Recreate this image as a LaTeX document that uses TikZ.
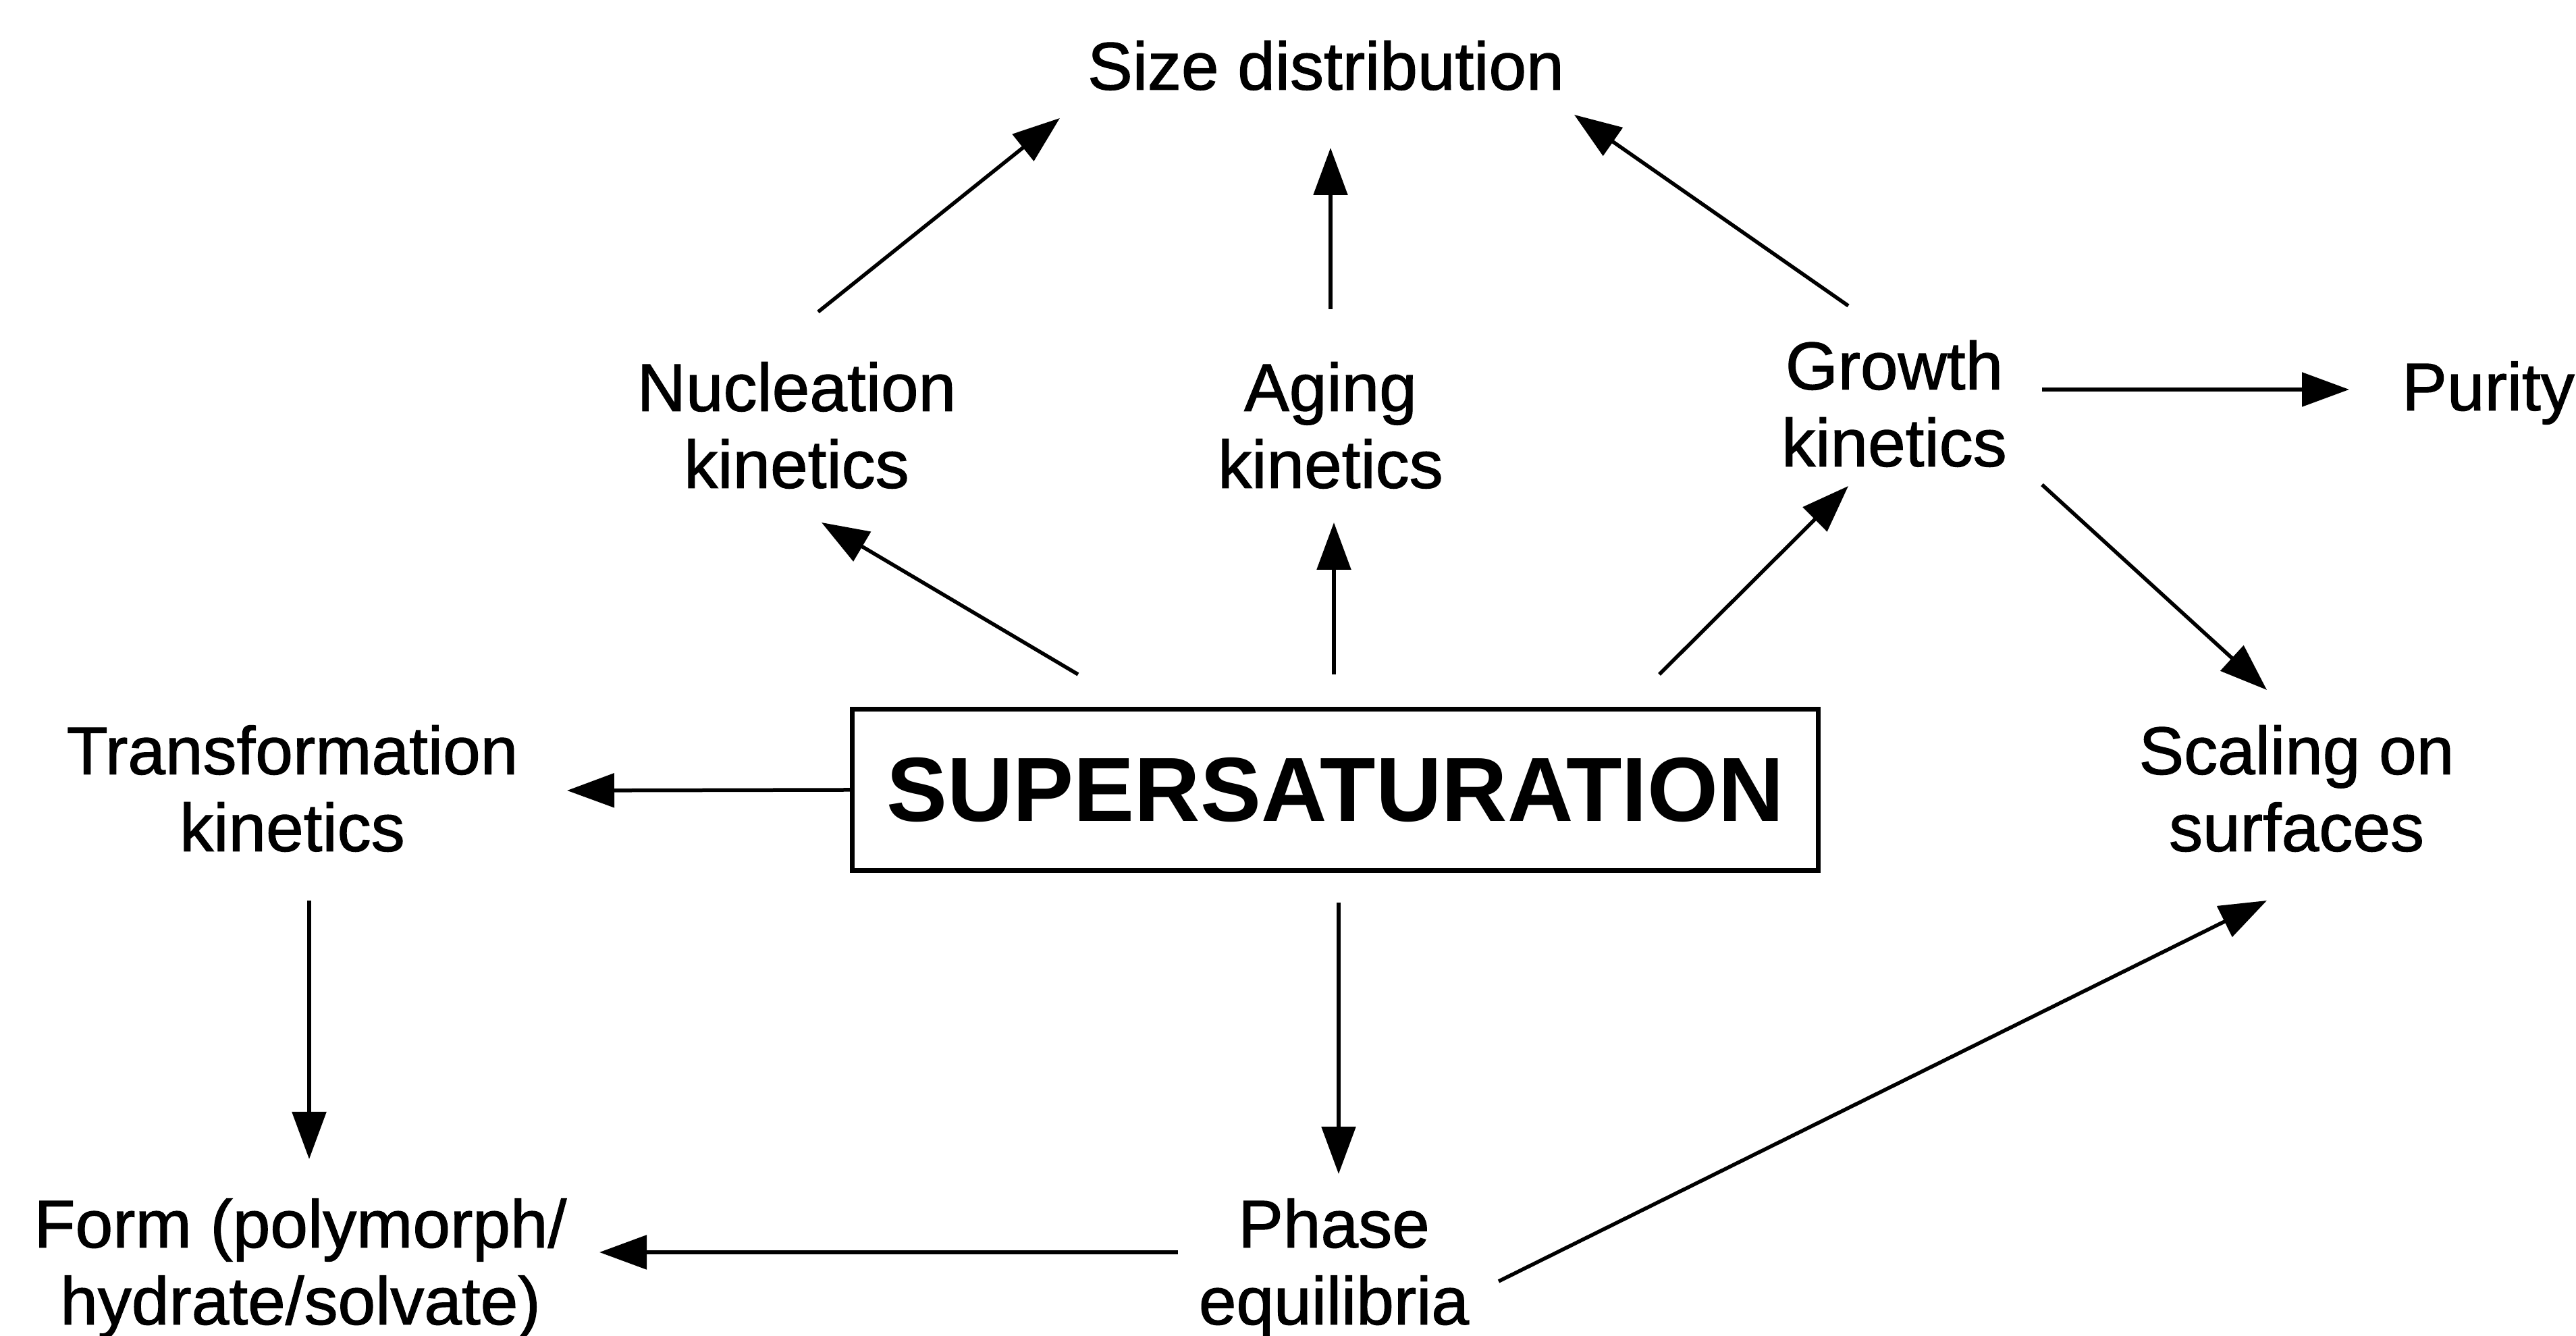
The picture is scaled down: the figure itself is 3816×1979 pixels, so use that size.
\documentclass[tikz,border=0pt]{standalone}
\usepackage{fontspec}
\setmainfont{Liberation Sans}
\newfontfamily\lblfont{Liberation Sans}[FakeBold=1.2]
\usetikzlibrary{arrows.meta}
\begin{document}
\begin{tikzpicture}[x=0.1pt,y=-0.1pt,
  lbl/.style={align=center,inner sep=0pt,font=\lblfont\fontsize{10}{11.4}\selectfont},
  mainbox/.style={draw,line width=0.7pt,minimum width=143.1pt,minimum height=23.9pt,inner sep=0pt,font=\fontsize{13.5}{16}\selectfont\bfseries},
  arr/.style={line width=0.55pt,-{Triangle[length=7pt,width=5pt]}}]
\useasboundingbox (0,0) rectangle (3816,1979);
\node[lbl] (size) at (1964,97) {Size distribution};
\node[lbl] (nuc) at (1180,630) {Nucleation\\kinetics};
\node[lbl] (aging) at (1971,630) {Aging\\kinetics};
\node[lbl] (growth) at (2806,598) {Growth\\kinetics};
\node[lbl] (purity) at (3686,582) {Purity};
\node[lbl] (trans) at (433,1168) {Transformation\\kinetics};
\node[mainbox] (super) at (1978,1170) {SUPERSATURATION};
\node[lbl] (scaling) at (3402,1168) {Scaling on\\surfaces};
\node[lbl] (form) at (445,1879) {Form (polymorph/\\hydrate/solvate)};
\node[lbl] (phase) at (1976,1879) {Phase\\equilibria};
% arrows
\draw[arr] ([shift={(32,-168)}]nuc.center) -- ([shift={(-394,78)}]size.center);
\draw[arr] ([shift={(0,-172)}]aging.center) -- ([shift={(7,122)}]size.center);
\draw[arr] ([shift={(-68,-145)}]growth.center) -- ([shift={(368,73)}]size.center);
\draw[arr] ([shift={(219,-21)}]growth.center) -- ([shift={(-206,-5)}]purity.center);
\draw[arr] ([shift={(219,120)}]growth.center) -- ([shift={(-44,-146)}]scaling.center);
\draw[arr] ([shift={(-381,-48)}]super.north) -- ([shift={(37,144)}]nuc.center);
\draw[arr] ([shift={(-2,-48)}]super.north) -- ([shift={(5,144)}]aging.center);
\draw[arr] ([shift={(480,-48)}]super.north) -- ([shift={(-68,122)}]growth.center);
\draw[arr] (super.west) -- ([shift={(407,3)}]trans.center);
\draw[arr] ([shift={(25,166)}]trans.center) -- ([shift={(13,-162)}]form.center);
\draw[arr] ([shift={(5,44)}]super.south) -- ([shift={(7,-140)}]phase.center);
\draw[arr] ([shift={(-231,-24)}]phase.center) -- ([shift={(443,-24)}]form.center);
\draw[arr] ([shift={(244,19)}]phase.center) -- ([shift={(-44,166)}]scaling.center);
\end{tikzpicture}
\end{document}
